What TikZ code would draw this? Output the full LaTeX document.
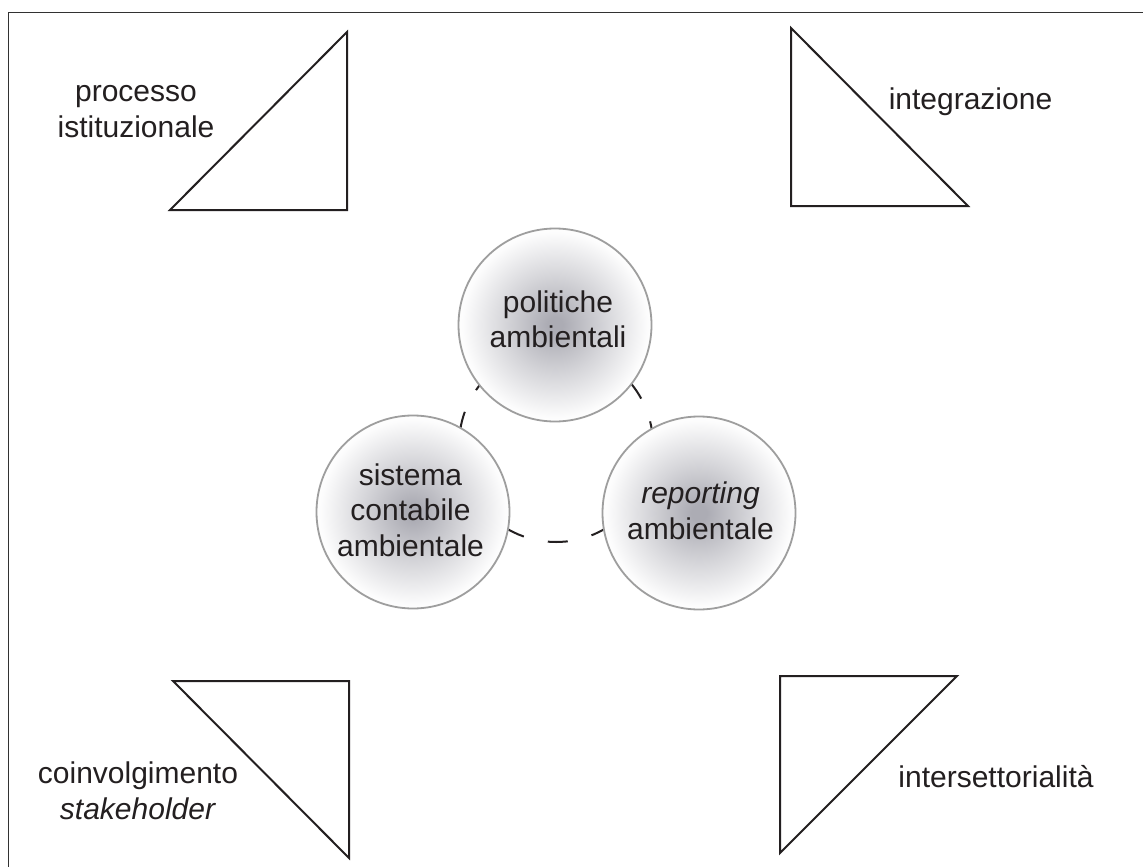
\documentclass[tikz,border=0pt]{standalone}
\usepackage{fontspec}
\setmainfont{Liberation Sans}
\definecolor{ink}{RGB}{35,31,32}
\definecolor{frameink}{RGB}{50,50,50}
\definecolor{ballc}{RGB}{172,172,180}
\definecolor{ballrim}{RGB}{158,158,158}
\pgfdeclareradialshading{ballshade}{\pgfpoint{0bp}{0bp}}{color(0bp)=(ballc); color(2bp)=(ballc); color(13bp)=(ballc!50!white); color(24bp)=(white!97!ballc); color(50bp)=(white)}
\tikzset{
  tri/.style={draw=ink, line width=2pt, line join=miter},
  ball/.style={circle, minimum size=193pt, inner sep=0pt, shading=ballshade, draw=ballrim, line width=1.8pt},
  txt/.style={text=ink, align=center, inner sep=0pt, font=\fontsize{30}{35.5}\selectfont},
  ring/.style={draw=ink, line width=2pt, dash pattern=on 20pt off 24.5pt, dash phase=37.4pt}
}
\begin{document}
\begin{tikzpicture}[x=1pt,y=-1pt]
\useasboundingbox (0,0) rectangle (1143,867);
\clip (0,0) rectangle (1143,867);
\fill[white] (0,0) rectangle (1143,867);
% frame
\draw[frameink, line width=1.8pt] (8.5,12.5) rectangle (1170,890);

% corner triangles
\draw[tri] (347,32) -- (347,210) -- (170,210) -- cycle;
\draw[tri] (791,28) -- (791,206) -- (968,206) -- cycle;
\draw[tri] (173,681) -- (349,681) -- (349,858) -- cycle;
\draw[tri] (780,676) -- (957,676) -- (780,853) -- cycle;

% corner labels (base = baseline of last line)
\node[txt, anchor=base] (pi) at (136,137) {processo\\istituzionale};
\node[txt, anchor=base] (ig) at (970.5,110) {integrazione};
\node[txt, anchor=base] (cs) at (138,819) {coinvolgimento\\\textit{stakeholder}};
\node[txt, anchor=base] (is) at (996,787) {intersettorialità};

% dashed ring
\coordinate (rc) at (556,445);
\draw[ring] (rc) circle[radius=97];

% circles
\node[ball] (pa) at (555,325) {};
\node[ball] (sc) at (413,512) {};
\node[ball] (ra) at (699,513) {};

\node[txt, anchor=base] (pat) at (558,347.5) {politiche\\ambientali};
\node[txt, anchor=base] (sct) at (410.5,556) {sistema\\contabile\\ambientale};
\node[txt, anchor=base] (rat) at (700.5,539) {\textit{reporting}\\ambientale};
\end{tikzpicture}
\end{document}
